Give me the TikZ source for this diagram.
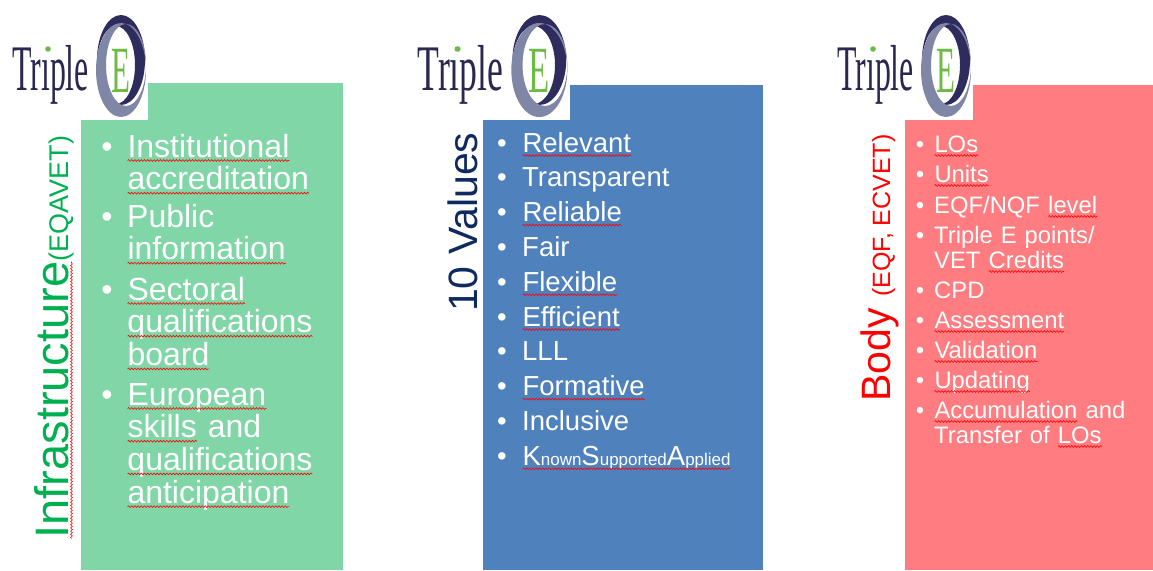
\documentclass[tikz,border=0pt]{standalone}
\usepackage{fontspec}
\setmainfont{Liberation Sans}
\newfontfamily\logofont{Liberation Serif}
\usepackage{graphicx}
\usetikzlibrary{decorations.pathmorphing}

\definecolor{grnpanel}{HTML}{80D6A6}
\definecolor{blupanel}{HTML}{4F81BD}
\definecolor{redpanel}{HTML}{FF7C80}
\definecolor{grntitle}{HTML}{00B050}
\definecolor{navytitle}{HTML}{0E2A5E}
\definecolor{logonavy}{HTML}{2A2850}
\definecolor{ringdark}{HTML}{2E2C5C}
\definecolor{ringgray}{HTML}{7F86A6}
\definecolor{logogreen}{HTML}{6DBB45}

\tikzset{
	grnitem/.style={text=white, font={\fontsize{32}{32.7}\selectfont}, text width=215pt, align=left, inner sep=0pt},
	bluitem/.style={text=white, font={\fontsize{27.5}{30}\selectfont}, text width=240pt, align=left, inner sep=0pt},
	reditem/.style={text=white, font={\fontsize{23.8}{25}\selectfont\spaceskip=11pt plus 2pt\relax}, text width=215pt, align=left, inner sep=0pt},
	bul/.style={text=white, anchor=base, inner sep=0pt},
	vtitle/.style={rotate=90, anchor=base west, inner sep=0pt},
	logotxt/.style={text=logonavy, font={\logofont\fontsize{65}{65}\selectfont}, inner sep=0pt, transform shape},
	logoE/.style={text=logogreen, font={\logofont\fontsize{66}{66}\selectfont}, inner sep=0pt, transform shape},
	wave/.style={red, line width=0.6pt, decorate, decoration={snake, amplitude=0.9pt, segment length=3.2pt}}
}

% red spell-check wave under a word
\newcommand{\squig}[1]{\tikz[reset cm, baseline=(sqw.base)]{\node[inner sep=0pt, outer sep=0pt, text width={}, anchor=base] (sqw) {#1}; \draw[wave] ([yshift=-3.5pt]sqw.base west) -- ([yshift=-3.5pt]sqw.base east);}}

% Triple E logo: left x, horizontal scale, name suffix
\newcommand{\tripleE}[3]{%
	\begin{scope}[shift={(#1,0)}, xscale=#2]
		\fill[white] (0,15) rectangle (138,120);
		\fill[ringdark, even odd rule] (111,60) ellipse [x radius=24, y radius=45] (106,65) ellipse [x radius=19, y radius=39];
		\fill[ringgray, even odd rule] (111,70) ellipse [x radius=25, y radius=47] (116,65) ellipse [x radius=20, y radius=41];
		\node[logotxt, anchor=base west] (trip#3) at (2,90) {\scalebox{0.49}[1]{Tr\i ple}};
		\fill[logogreen] (38,49) circle [radius=2.8];
		\node[logoE, anchor=base] (ee#3) at (111,92) {\scalebox{0.47}[1]{E}};
	\end{scope}}

\begin{document}
\begin{tikzpicture}[x=1pt, y=-1pt]
	\useasboundingbox (0,0) rectangle (1153,570);
	% panels
	\fill[grnpanel] (81,83) rectangle (343,570);
	\fill[blupanel] (483,85) rectangle (763,570);
	\fill[redpanel] (905,85) rectangle (1153,570);
	% logos
	\tripleE{10}{1}{a}
	\tripleE{415}{1.12}{b}
	\tripleE{835}{1}{c}
	% side titles
	\node[vtitle, text=grntitle] (infra) at (68,539) {{\fontsize{47}{47}\selectfont\squig{Infrastructure}}{\fontsize{27}{27}\selectfont(EQAVET)}};
	\node[vtitle, text=navytitle, font={\fontsize{41}{41}\selectfont}] (vals) at (477,312) {10 Values};
	\node[vtitle, text=red] (body) at (890,402) {{\fontsize{41}{41}\selectfont Body }{\fontsize{25}{25}\selectfont(EQF, ECVET)}};
	% green list
	\foreach \y/\t [count=\i] in {157/{\squig{Institutional}\\\squig{accreditation}}, 227/{Public\\\squig{information}}, 300/{\squig{Sectoral}\\\squig{qualifications}\\\squig{board}}, 405/{\squig{European}\\\squig{skills} and\\\squig{qualifications}\\\squig{anticipation}}}
	{
		\node[grnitem, anchor=base west] (g\i) at (127,\y) {\t};
		\node[bul, font={\fontsize{32}{32}\selectfont}] (gb\i) at ([xshift=-20pt]g\i.base west) {\textbullet};
	}
	% blue list
	\foreach \t [count=\i] in {\squig{Relevant}, Transparent, \squig{Reliable}, Fair, \squig{Flexible}, \squig{Efficient}, LLL, \squig{Formative}, Inclusive, {\squig{K{\fontsize{17}{17}\selectfont nown}S{\fontsize{17}{17}\selectfont upported}A{\fontsize{17}{17}\selectfont pplied}}}}
	{
		\node[bluitem, anchor=base west] (v\i) at (522,{117.2+34.8*\i}) {\t};
		\node[bul, font={\fontsize{27.5}{27.5}\selectfont}] (vb\i) at ([xshift=-20pt]v\i.base west) {\textbullet};
	}
	% red list
	\foreach \y/\t [count=\i] in {152/{\squig{LOs}}, 182/{\squig{Units}}, 213/{EQF/NQF \squig{level}}, 243/{Triple E points/\\VET \squig{Credits}}, 298/CPD, 328/{\squig{Assessment}}, 358/{\squig{Validation}}, 388/{\squig{Updating}}, 418/{\squig{Accumulation} and\\Transfer of \squig{LOs}}}
	{
		\node[reditem, anchor=base west] (r\i) at (934,\y) {\t};
		\node[bul, font={\fontsize{23.8}{23.8}\selectfont}] (rb\i) at ([xshift=-14pt]r\i.base west) {\textbullet};
	}
\end{tikzpicture}
\end{document}
